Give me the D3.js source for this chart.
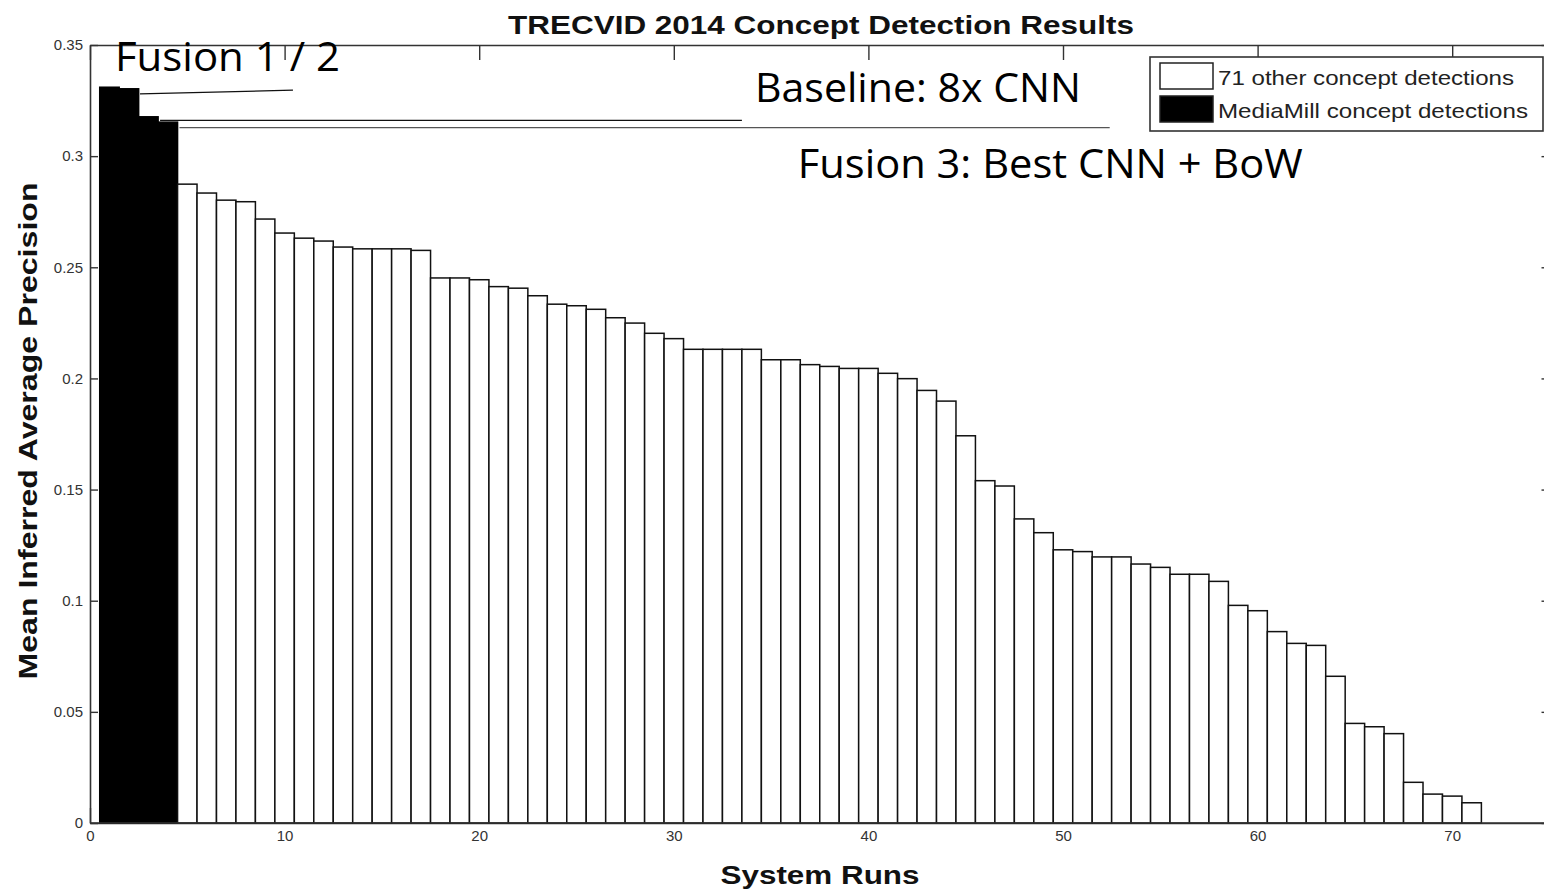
<!DOCTYPE html>
<html>
<head>
<meta charset="utf-8">
<script src="https://cdn.jsdelivr.net/npm/d3@7"></script>
<style>
  html, body { margin: 0; padding: 0; background: #fff; }
  svg { display: block; }
</style>
</head>
<body>
<svg id="chart" width="1544" height="893"></svg>
<script>
// ---------------- DATA ----------------
const chartTitle = "TRECVID 2014 Concept Detection Results";
const xLabel = "System Runs";
const yLabel = "Mean Inferred Average Precision";
const legendLabels = ["71 other concept detections", "MediaMill concept detections"];

// MediaMill runs (ranks 1-4)
const mediaMillMAP = [0.3310, 0.3303, 0.3177, 0.3153];
// Other runs (ranks 5-71)
const otherMAP = [
  0.2874, 0.2834, 0.2802, 0.2795, 0.2717, 0.2654, 0.2631, 0.2618, 0.2591, 0.2583,
  0.2583, 0.2583, 0.2576, 0.2452, 0.2452, 0.2444, 0.2413, 0.2406, 0.2372, 0.2334,
  0.2327, 0.2311, 0.2273, 0.2249, 0.2203, 0.2179, 0.2131, 0.2131, 0.2131, 0.2131,
  0.2084, 0.2084, 0.2062, 0.2054, 0.2045, 0.2045, 0.2023, 0.1999, 0.1946, 0.1898,
  0.1742, 0.1540, 0.1516, 0.1368, 0.1306, 0.1229, 0.1221, 0.1197, 0.1197, 0.1165,
  0.1150, 0.1119, 0.1119, 0.1087, 0.0979, 0.0955, 0.0861, 0.0808, 0.0799, 0.0660,
  0.0448, 0.0433, 0.0402, 0.0183, 0.0130, 0.0121, 0.0091
];
const xTicks = [0, 10, 20, 30, 40, 50, 60, 70];
const yTicks = [0, 0.05, 0.1, 0.15, 0.2, 0.25, 0.3, 0.35];
const yTickLabels = ["0", "0.05", "0.1", "0.15", "0.2", "0.25", "0.3", "0.35"];

// annotations (in data coordinates)
const annotationTexts = ["Fusion 1 / 2", "Baseline: 8x CNN", "Fusion 3: Best CNN + BoW"];
const annotationAnchors = [[1.28, 0.3382], [34.17, 0.3245], [36.37, 0.2900]];
const leaderLines = [
  [[2.57, 0.3280], [10.43, 0.3297]],
  [[3.60, 0.3161], [33.50, 0.3161]],
  [[4.60, 0.3128], [52.40, 0.3128]]
];

// ---------------- LAYOUT ----------------
const svg = d3.select("#chart");
const x = d3.scaleLinear().domain([0, 75]).range([90, 90 + 75 * 19.46]);
const y = d3.scaleLinear().domain([0, 0.35]).range([823, 45]);

const bars = mediaMillMAP.map((v, i) => ({rank: i + 1, v, mm: true}))
  .concat(otherMAP.map((v, i) => ({rank: mediaMillMAP.length + i + 1, v, mm: false})));

const axisColor = "#333";
const tickFont = "'Liberation Sans', Arial, sans-serif";

// axes (drawn under bars, MATLAB layer bottom)
const gAx = svg.append("g");
const xAxisB = d3.axisBottom(x).tickValues(xTicks).tickSize(-15).tickPadding(7).tickSizeOuter(0);
const xAxisT = d3.axisTop(x).tickValues(xTicks).tickSize(-15).tickFormat("").tickSizeOuter(0);
const yAxisL = d3.axisLeft(y).tickValues(yTicks).tickSize(-8).tickPadding(7)
  .tickFormat((d, i) => yTickLabels[i]).tickSizeOuter(0);
const yAxisR = d3.axisRight(y).tickValues(yTicks).tickSize(-8).tickFormat("").tickSizeOuter(0);

function styleAxis(g) {
  g.selectAll("path.domain").attr("stroke", axisColor).attr("stroke-width", 1.6);
  g.selectAll(".tick line").attr("stroke", axisColor).attr("stroke-width", 1.4);
  g.selectAll(".tick text").attr("fill", "#333").style("font-family", tickFont).style("font-size", "15px");
}
gAx.append("g").attr("transform", `translate(0,${y(0)})`).call(xAxisB).call(styleAxis);
gAx.append("g").attr("transform", `translate(0,${y(0.35)})`).call(xAxisT).call(styleAxis);
gAx.append("g").attr("transform", `translate(${x(0)},0)`).call(yAxisL).call(styleAxis);
gAx.append("g").attr("transform", `translate(${x(75)},0)`).call(yAxisR).call(styleAxis);

// bars
svg.append("g").selectAll("rect").data(bars).join("rect")
  .attr("x", d => x(d.rank - 0.5))
  .attr("width", d => x(d.rank + 0.5) - x(d.rank - 0.5))
  .attr("y", d => y(d.v))
  .attr("height", d => y(0) - y(d.v))
  .attr("fill", d => d.mm ? "#000" : "#fff")
  .attr("stroke", d => d.mm ? "#000" : "#111")
  .attr("stroke-width", 1.5);

// redraw bottom axis line over bars
svg.append("line")
  .attr("x1", x(0)).attr("x2", x(75)).attr("y1", y(0)).attr("y2", y(0))
  .attr("stroke", axisColor).attr("stroke-width", 1.6);

// title
svg.append("text")
  .attr("x", 821).attr("y", 34)
  .attr("text-anchor", "middle")
  .attr("textLength", 626).attr("lengthAdjust", "spacingAndGlyphs")
  .style("font-family", tickFont).style("font-weight", "bold").style("font-size", "26px")
  .attr("fill", "#111")
  .text(chartTitle);

// x label
svg.append("text")
  .attr("x", 820).attr("y", 884)
  .attr("text-anchor", "middle")
  .attr("textLength", 199).attr("lengthAdjust", "spacingAndGlyphs")
  .style("font-family", tickFont).style("font-weight", "bold").style("font-size", "26px")
  .attr("fill", "#111")
  .text(xLabel);

// y label
svg.append("text")
  .attr("transform", "translate(37,431) rotate(-90)")
  .attr("text-anchor", "middle")
  .attr("textLength", 497).attr("lengthAdjust", "spacingAndGlyphs")
  .style("font-family", tickFont).style("font-weight", "bold").style("font-size", "26px")
  .attr("fill", "#111")
  .text(yLabel);

// leader lines
svg.append("g").selectAll("line").data(leaderLines).join("line")
  .attr("x1", d => x(d[0][0])).attr("y1", d => y(d[0][1]))
  .attr("x2", d => x(d[1][0])).attr("y2", d => y(d[1][1]))
  .attr("stroke", (d, i) => i === 2 ? "#555" : "#111")
  .attr("stroke-width", 1.2);

// annotation texts
const annWidths = [225, 326, 505];
svg.append("g").selectAll("text").data(annotationTexts).join("text")
  .attr("x", (d, i) => x(annotationAnchors[i][0]))
  .attr("y", (d, i) => y(annotationAnchors[i][1]))
  .attr("textLength", (d, i) => annWidths[i]).attr("lengthAdjust", "spacingAndGlyphs")
  .style("font-family", "'Open Sans', 'Noto Sans', sans-serif")
  .style("font-size", "41px")
  .attr("fill", "#000")
  .text(d => d);

// legend
const lg = svg.append("g");
lg.append("rect").attr("x", 1150).attr("y", 57).attr("width", 393).attr("height", 74)
  .attr("fill", "#fff").attr("stroke", axisColor).attr("stroke-width", 1.6);
const legendFills = ["#fff", "#000"];
const legendY = [63, 96];
lg.selectAll("rect.sw").data(legendLabels).join("rect").attr("class", "sw")
  .attr("x", 1160).attr("y", (d, i) => legendY[i])
  .attr("width", 53).attr("height", 26)
  .attr("fill", (d, i) => legendFills[i]).attr("stroke", "#222").attr("stroke-width", 1.5);
const legendTextW = [296, 310];
lg.selectAll("text").data(legendLabels).join("text")
  .attr("x", 1218).attr("y", (d, i) => legendY[i] + 22)
  .attr("textLength", (d, i) => legendTextW[i]).attr("lengthAdjust", "spacingAndGlyphs")
  .style("font-family", tickFont).style("font-size", "21px")
  .attr("fill", "#222")
  .text(d => d);
</script>
</body>
</html>
